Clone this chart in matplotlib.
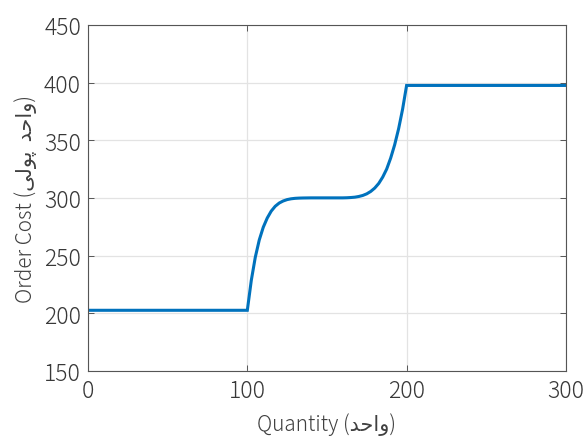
import matplotlib
matplotlib.use("Agg")
import matplotlib.pyplot as plt

# Data
quantity = [0, 100, 102.5, 105, 107.5, 110, 112.5, 115, 117.5, 120, 122.5, 125,
            127.5, 130, 132.5, 135, 140, 145, 150, 155, 160, 162.5, 165, 167.5,
            170, 172.5, 175, 177.5, 180, 182.5, 185, 187.5, 190, 192.5, 195,
            197.5, 200, 300]
order_cost = [202.5, 202.5, 228.5, 248.5, 263.5, 274.5, 282.5, 288.5, 292.7, 295.5,
              297.3, 298.5, 299.2, 299.6, 299.8, 299.9, 300.0, 300.0, 300.0, 300.0,
              300.0, 300.1, 300.3, 300.6, 301.2, 302.1, 303.5, 305.6, 308.5, 312.5,
              318.0, 325.0, 334.5, 346.0, 360.0, 377.0, 397.5, 397.5]
x_ticks = [0, 100, 200, 300]
y_ticks = [150, 200, 250, 300, 350, 400, 450]

# Persian strings in visual (left-to-right) order with presentation forms
vahed = "\uFEAA\uFEA3\uFE8D\uFEED"            # واحد
pooli = "\uFEF0\uFEDF\uFEEE\uFB58"            # پولی
xlabel = "Quantity (" + vahed + ")"
ylabel = "Order Cost (" + pooli + "  " + vahed + ")"

fam = ["Noto Sans CJK JP", "DejaVu Sans"]
plt.rcParams["font.family"] = fam
W = 310  # Noto CJK Light for Latin, DejaVu Sans Book for Arabic

fig = plt.figure(figsize=(5.87, 4.39), dpi=100)
ax = fig.add_axes([0.150, 0.153, 0.814, 0.788])

ax.plot(quantity, order_cost, color="#0072BD", linewidth=2.2, solid_joinstyle="miter")

ax.set_xlim(0, 300)
ax.set_ylim(150, 450)
ax.set_xticks(x_ticks)
ax.set_yticks(y_ticks)
ax.grid(True, color="#E3E3E3", linewidth=0.9)
ax.set_axisbelow(True)

for s in ax.spines.values():
    s.set_color("#555555")
    s.set_linewidth(0.8)
ax.tick_params(direction="in", length=4, width=0.7, colors="#555555",
               labelcolor="#383838", labelsize=16.5, top=True, right=True, pad=5)
for lab in ax.get_xticklabels() + ax.get_yticklabels():
    lab.set_fontweight("light")

ax.set_xlabel(xlabel, fontsize=15, color="#404040", labelpad=7, family=fam,
              fontweight=W)
ax.set_ylabel(ylabel, fontsize=15, color="#404040", labelpad=5, family=fam,
              fontweight=W)

fig.savefig("out.png", dpi=100)
